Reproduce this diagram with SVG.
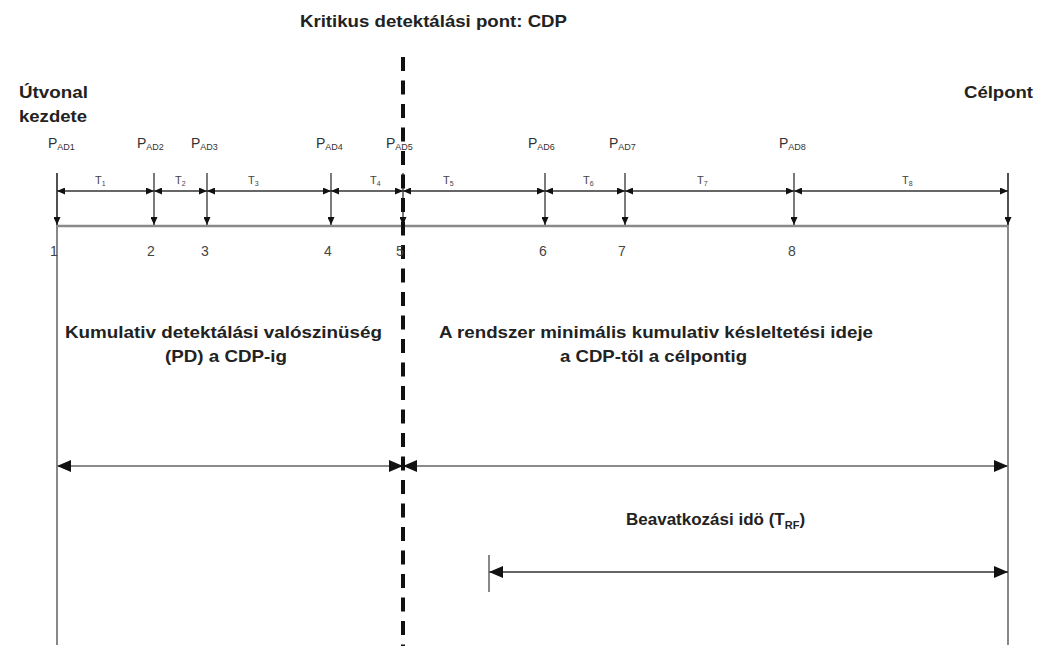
<svg xmlns="http://www.w3.org/2000/svg" width="1045" height="650" viewBox="0 0 1045 650">
<style>
.bold{font-family:"Liberation Sans",Arial,sans-serif;font-weight:bold;font-size:17px;fill:#222}
.p{font-family:"Liberation Sans",Arial,sans-serif;font-size:14px;fill:#333}
.sub{font-size:9px}
.t{font-family:"Liberation Sans",Arial,sans-serif;font-size:11px;fill:#444}
.tsub{font-size:7px}
.num{font-family:"Liberation Sans",Arial,sans-serif;font-size:14px;fill:#444;text-anchor:middle}
.dim{stroke:#333;stroke-width:1.3;fill:none}
.base{stroke:#8a8a8a;stroke-width:2.6;fill:none}
.vert{stroke:#555;stroke-width:1.4;fill:none}
</style>
<defs>
<marker id="sa" viewBox="0 0 10 10" refX="10" refY="5" markerWidth="8" markerHeight="7" markerUnits="userSpaceOnUse" orient="auto-start-reverse" preserveAspectRatio="none"><path d="M0,0 L10,5 L0,10 z" fill="#111"/></marker>
<marker id="la" viewBox="0 0 10 10" refX="10" refY="5" markerWidth="14" markerHeight="12" markerUnits="userSpaceOnUse" orient="auto-start-reverse" preserveAspectRatio="none"><path d="M0,0 L10,5 L0,10 z" fill="#111"/></marker>
</defs>
<rect width="1045" height="650" fill="#fff"/>

<g id="connectors">
  <!-- end verticals -->
  <line class="vert" x1="57" y1="173" x2="57" y2="645"/>
  <line class="vert" x1="1008" y1="173" x2="1008" y2="645"/>
  <!-- main baseline -->
  <line class="base" x1="57" y1="226" x2="1008" y2="226"/>
  <!-- tick down arrows -->
  <g class="dim" marker-end="url(#sa)">
    <line x1="57" y1="173" x2="57" y2="225"/>
    <line x1="154" y1="173" x2="154" y2="225"/>
    <line x1="207" y1="173" x2="207" y2="225"/>
    <line x1="331" y1="173" x2="331" y2="225"/>
    <line x1="403" y1="173" x2="403" y2="225"/>
    <line x1="545" y1="173" x2="545" y2="225"/>
    <line x1="625" y1="173" x2="625" y2="225"/>
    <line x1="794" y1="173" x2="794" y2="225"/>
    <line x1="1008" y1="173" x2="1008" y2="225"/>
  </g>
  <!-- dimension segments -->
  <g class="dim" marker-start="url(#sa)" marker-end="url(#sa)">
    <line x1="57" y1="191" x2="154" y2="191"/>
    <line x1="154" y1="191" x2="207" y2="191"/>
    <line x1="207" y1="191" x2="331" y2="191"/>
    <line x1="331" y1="191" x2="403" y2="191"/>
    <line x1="403" y1="191" x2="545" y2="191"/>
    <line x1="545" y1="191" x2="625" y2="191"/>
    <line x1="625" y1="191" x2="794" y2="191"/>
    <line x1="794" y1="191" x2="1008" y2="191"/>
  </g>
  <!-- cumulative arrows -->
  <g marker-start="url(#la)" marker-end="url(#la)">
    <line class="base" style="stroke-width:2.2" x1="57" y1="466" x2="403" y2="466"/>
    <line class="base" style="stroke-width:2.2" x1="403" y1="466" x2="1008" y2="466"/>
    <line class="dim" x1="489" y1="572" x2="1008" y2="572"/>
  </g>
  <line class="vert" x1="489" y1="555" x2="489" y2="592"/>
  <!-- CDP dashed line -->
  <line x1="403" y1="57" x2="403" y2="646" stroke="#111" stroke-width="4" stroke-dasharray="14 9.5"/>
</g>

<g id="title"><text class="bold" x="300" y="27" textLength="267" lengthAdjust="spacingAndGlyphs">Kritikus detektálási pont: CDP</text></g>
<g id="start-label">
  <text class="bold" x="19" y="98" textLength="69" lengthAdjust="spacingAndGlyphs">Útvonal</text>
  <text class="bold" x="19" y="122" textLength="68" lengthAdjust="spacingAndGlyphs">kezdete</text>
</g>
<g id="target-label"><text class="bold" x="964" y="98" textLength="69" lengthAdjust="spacingAndGlyphs">Célpont</text></g>

<g id="pad-labels">
  <text class="p" x="48" y="148">P<tspan class="sub" dy="2">AD1</tspan></text>
  <text class="p" x="137" y="148">P<tspan class="sub" dy="2">AD2</tspan></text>
  <text class="p" x="191" y="148">P<tspan class="sub" dy="2">AD3</tspan></text>
  <text class="p" x="316" y="148">P<tspan class="sub" dy="2">AD4</tspan></text>
  <text class="p" x="386" y="148">P<tspan class="sub" dy="2">AD5</tspan></text>
  <text class="p" x="528" y="148">P<tspan class="sub" dy="2">AD6</tspan></text>
  <text class="p" x="609" y="148">P<tspan class="sub" dy="2">AD7</tspan></text>
  <text class="p" x="779" y="148">P<tspan class="sub" dy="2">AD8</tspan></text>
</g>

<g id="t-labels">
  <text class="t" x="95" y="184">T<tspan class="tsub" dy="2">1</tspan></text>
  <text class="t" x="175" y="184">T<tspan class="tsub" dy="2">2</tspan></text>
  <text class="t" x="248" y="184">T<tspan class="tsub" dy="2">3</tspan></text>
  <text class="t" x="370" y="184">T<tspan class="tsub" dy="2">4</tspan></text>
  <text class="t" x="443" y="184">T<tspan class="tsub" dy="2">5</tspan></text>
  <text class="t" x="583" y="184">T<tspan class="tsub" dy="2">6</tspan></text>
  <text class="t" x="697" y="184">T<tspan class="tsub" dy="2">7</tspan></text>
  <text class="t" x="902" y="184">T<tspan class="tsub" dy="2">8</tspan></text>
</g>

<g id="point-numbers">
  <text class="num" x="54" y="256">1</text>
  <text class="num" x="151" y="256">2</text>
  <text class="num" x="205" y="256">3</text>
  <text class="num" x="328" y="256">4</text>
  <text class="num" x="400" y="256">5</text>
  <text class="num" x="543" y="256">6</text>
  <text class="num" x="622" y="256">7</text>
  <text class="num" x="792" y="256">8</text>
</g>

<g id="pd-label">
  <text class="bold" x="65" y="338" textLength="317" lengthAdjust="spacingAndGlyphs">Kumulativ detektálási valószinüség</text>
  <text class="bold" x="165" y="362" textLength="122" lengthAdjust="spacingAndGlyphs">(PD) a CDP-ig</text>
</g>
<g id="delay-label">
  <text class="bold" x="439" y="338" textLength="434" lengthAdjust="spacingAndGlyphs">A rendszer minimális kumulativ késleltetési ideje</text>
  <text class="bold" x="560" y="362" textLength="187" lengthAdjust="spacingAndGlyphs">a CDP-töl a célpontig</text>
</g>
<g id="response-label">
  <text class="bold" x="626" y="525">Beavatkozási idö (T<tspan font-size="11" dy="4">RF</tspan><tspan dy="-4">)</tspan></text>
</g>
</svg>
